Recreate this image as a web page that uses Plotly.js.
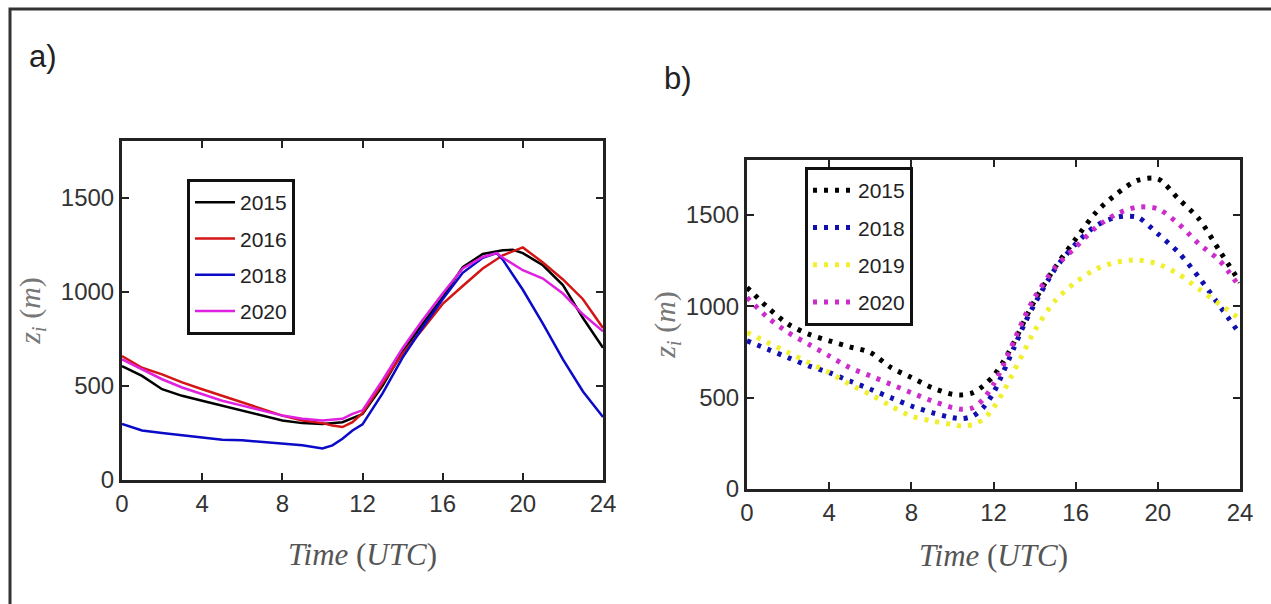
<!DOCTYPE html>
<html><head><meta charset="utf-8">
<script src="https://cdn.plot.ly/plotly-3.0.1.min.js"></script>
<style>html,body{margin:0;padding:0;background:#fff}#chart{width:1271px;height:604px}</style>
</head><body><div id="chart"></div><script>
// ---- Panel a: measured z_i (m) vs time (UTC) ----
const tA2015 = [0,1,2,3,4,5,6,7,8,9,10,11,12,13,14,15,16,17,18,19,19.5,20,21,22,23,24];
const zA2015 = [605,553,482,447,421,395,368,342,316,302,298,307,350,500,680,830,970,1130,1200,1220,1222,1205,1140,1035,860,702];
const tA2016 = [0,1,2,3,4,5,6,7,8,9,10,10.5,11,11.5,12,13,14,15,16,17,18,19,20,21,22,23,24];
const zA2016 = [658,596,561,518,482,447,412,377,342,316,302,289,281,307,355,515,670,800,935,1030,1123,1193,1235,1155,1065,960,807];
const tA2018 = [0,1,2,3,4,5,6,7,8,9,10,10.5,11,11.5,12,13,14,15,16,17,18,18.7,19,20,21,22,23,24];
const zA2018 = [298,263,249,237,228,214,211,202,189,184,167,184,219,263,295,460,650,810,960,1100,1180,1205,1170,1010,830,640,470,335];
const tA2020 = [0,1,2,3,4,5,6,7,8,9,10,11,11.5,12,13,14,15,16,17,18,18.7,19,20,21,22,23,24];
const zA2020 = [640,588,535,491,456,421,395,368,342,325,316,325,351,370,530,700,850,990,1123,1184,1205,1180,1114,1070,990,880,789];

// ---- Panel b: z_i (m) vs time (UTC) ----
const tB = [0,1,2,3,4,5,6,7,8,9,10,10.5,11,11.5,12,12.5,13,13.5,14,15,16,17,18,19,20,21,22,23,24];
const zB2015 = [1103,994,902,847,811,778,747,665,610,555,518,515,527,564,619,701,802,920,1030,1213,1368,1515,1615,1688,1697,1588,1478,1304,1131];
const zB2018 = [811,765,719,674,637,591,546,500,454,418,390,385,399,445,527,646,774,902,1012,1204,1341,1441,1487,1487,1396,1295,1158,1003,847];
const zB2019 = [856,802,747,692,637,573,518,454,399,372,353,344,353,381,445,536,646,756,866,1030,1131,1204,1241,1253,1231,1176,1094,1012,930];
const zB2020 = [1048,939,856,792,728,664,619,573,527,482,445,436,445,491,573,683,811,939,1048,1213,1323,1432,1505,1542,1533,1451,1341,1250,1103];

const xTicks = [0,4,8,12,16,20,24];
const yTicks = [0,500,1000,1500];
const namesA = ['2015','2016','2018','2020'];
const namesB = ['2015','2018','2019','2020'];

const sansFam = 'Liberation Sans Narrow, Arial Narrow, Liberation Sans, Arial, sans-serif';
const tickFont = {family:sansFam, size:24, color:'#333'};
const legFont = {family:sansFam, size:21, color:'#222'};
const serifFam = 'Liberation Serif, DejaVu Serif, serif';

function lineA(t, z, name, color){
  return {x:t, y:z, name:name, type:'scatter', mode:'lines', xaxis:'x', yaxis:'y',
    line:{color:color, width:2.5}, legend:'legend', legendgroup:'a'+name};
}
function dotB(t, z, name, color){
  return {x:t, y:z, name:name, type:'scatter', mode:'lines', xaxis:'x2', yaxis:'y2',
    line:{color:color, width:5, dash:'4px,7px', shape:'spline', smoothing:0.8}, legend:'legend2', legendgroup:'b'+name};
}

const data = [
  lineA(tA2015, zA2015, namesA[0], '#000000'),
  lineA(tA2016, zA2016, namesA[1], '#d41515'),
  lineA(tA2018, zA2018, namesA[2], '#0a0ac8'),
  lineA(tA2020, zA2020, namesA[3], '#e020e0'),
  dotB(tB, zB2015, namesB[0], '#000000'),
  dotB(tB, zB2018, namesB[1], '#1010b0'),
  dotB(tB, zB2019, namesB[2], '#f0f030'),
  dotB(tB, zB2020, namesB[3], '#cc2ccc')
];

function xAx(domain, anchor, standoff){
  return {domain:domain, anchor:anchor, range:[0,24], tickvals:xTicks, ticktext:xTicks.map(String),
    ticks:'inside', ticklen:7, tickwidth:2, tickcolor:'#222', showline:true, linewidth:3, linecolor:'#222',
    mirror:'ticks', showgrid:false, zeroline:false, tickfont:tickFont, fixedrange:true,
    title:{text:'<i>Time</i> (<i>UTC</i>)', font:{family:serifFam, size:31, color:'#555'}, standoff:standoff}};
}
function yAx(domain, anchor, standoff){
  return {domain:domain, anchor:anchor, range:[0,1800], tickvals:yTicks, ticktext:yTicks.map(String),
    ticks:'inside', ticklen:7, tickwidth:2, tickcolor:'#222', showline:true, linewidth:3, linecolor:'#222',
    mirror:'ticks', showgrid:false, zeroline:false, tickfont:tickFont, fixedrange:true,
    title:{text:'<i>z</i><sub><i>i</i></sub> (<i>m</i>)', font:{family:serifFam, size:30, color:'#777'}, standoff:standoff}};
}

const layout = {
  width:1271, height:604, margin:{l:0,r:0,t:0,b:0}, paper_bgcolor:'#fff', plot_bgcolor:'#fff',
  showlegend:true,
  xaxis: xAx([122/1271, 603/1271], 'y', 28),
  yaxis: yAx([(604-480)/604, (604-141)/604], 'x', 12),
  xaxis2: xAx([747/1271, 1240/1271], 'y2', 20),
  yaxis2: yAx([(604-489)/604, (604-160)/604], 'x2', 0),
  legend:{x:187/1271, y:(604-179)/604, xanchor:'left', yanchor:'top', bgcolor:'#fff', bordercolor:'#111', borderwidth:3,
    font:legFont, traceorder:'grouped', tracegroupgap:6, itemwidth:40},
  legend2:{x:805/1271, y:(604-167)/604, xanchor:'left', yanchor:'top', bgcolor:'#fff', bordercolor:'#111', borderwidth:3,
    font:legFont, traceorder:'grouped', tracegroupgap:7, itemwidth:40},
  shapes:[{type:'rect', xref:'paper', yref:'paper', x0:10/1271, x1:1.02, y0:-0.05, y1:(604-9)/604,
    line:{color:'#333', width:3}, fillcolor:'rgba(0,0,0,0)'}],
  annotations:[
    {text:'a)', xref:'paper', yref:'paper', x:27/1271, y:(604-57)/604, xanchor:'left', yanchor:'middle', showarrow:false,
     font:{family:'Liberation Sans, Arial, sans-serif', size:31, color:'#222'}},
    {text:'b)', xref:'paper', yref:'paper', x:662/1271, y:(604-78)/604, xanchor:'left', yanchor:'middle', showarrow:false,
     font:{family:'Liberation Sans, Arial, sans-serif', size:31, color:'#222'}}
  ]
};

Plotly.newPlot('chart', data, layout, {staticPlot:true, displayModeBar:false});
</script></body></html>
